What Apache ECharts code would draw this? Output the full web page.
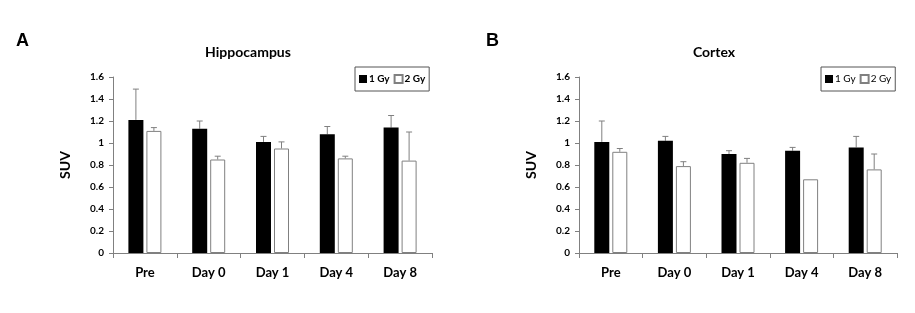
<!DOCTYPE html>
<html>
<head>
<meta charset="utf-8">
<script src="https://cdn.jsdelivr.net/npm/echarts@6/dist/echarts.min.js"></script>
<style>
  html, body { margin: 0; padding: 0; background: #fff; }
  #chart { width: 915px; height: 313px; }
</style>
</head>
<body>
<div id="chart"></div>
<script>
// data
const categories = ['Pre', 'Day 0', 'Day 1', 'Day 4', 'Day 8']
const yTicks = [0, 0.2, 0.4, 0.6, 0.8, 1, 1.2, 1.4, 1.6]

const hippo1Gy = [1.21, 1.13, 1.01, 1.08, 1.14]
const hippo1GyErr = [0.28, 0.07, 0.05, 0.07, 0.11]
const hippo2Gy = [1.11, 0.85, 0.95, 0.86, 0.84]
const hippo2GyErr = [0.03, 0.03, 0.06, 0.02, 0.26]

const cortex1Gy = [1.01, 1.02, 0.90, 0.93, 0.96]
const cortex1GyErr = [0.19, 0.04, 0.03, 0.03, 0.10]
const cortex2Gy = [0.92, 0.79, 0.82, 0.67, 0.76]
const cortex2GyErr = [0.03, 0.04, 0.04, 0, 0.14]

const FONT = 'Lato'
const GREY = '#808080'
const BAR_W = 15
const BAR_GAP = 3

const chart = echarts.init(document.getElementById('chart'))

function errSeries(gridIdx, values, errs, side) {
      // side: -1 left bar, +1 right bar
      return {
            type: 'custom',
            xAxisIndex: gridIdx,
            yAxisIndex: gridIdx,
            silent: true,
            z: 1,
            data: values.map((v, i) => [i, v, v + errs[i]]),
            renderItem: function(params, api) {
                  if (api.value(2) - api.value(1) < 0.005) return null
                  const base = api.coord([api.value(0), api.value(1)])
                  const top = api.coord([api.value(0), api.value(2)])
                  const x = base[0] + side * (BAR_W + BAR_GAP) / 2
                  const style = { stroke: GREY, lineWidth: 1 }
                  return {
                        type: 'group',
                        children: [
                              { type: 'line', shape: { x1: x, y1: base[1], x2: x, y2: top[1] }, style: style },
                              { type: 'line', shape: { x1: x - 3, y1: top[1], x2: x + 3, y2: top[1] }, style: style }
                        ]
                  }
            }
      }
}

function barSeries(gridIdx, name, values, white) {
      return {
            name: name,
            type: 'bar',
            xAxisIndex: gridIdx,
            yAxisIndex: gridIdx,
            barWidth: BAR_W,
            barGap: (BAR_GAP / BAR_W * 100) + '%',
            z: 2,
            itemStyle: white
                  ? { color: '#ffffff', borderColor: GREY, borderWidth: 1 }
                  : { color: '#000000' },
            data: values
      }
}

function xAxis(gridIdx) {
      return {
            type: 'category',
            gridIndex: gridIdx,
            data: categories,
            axisLine: { lineStyle: { color: GREY, width: 1 } },
            axisTick: { show: true, length: 5, lineStyle: { color: GREY } },
            axisLabel: { fontFamily: FONT, fontWeight: 'bold', fontSize: 13, color: '#000', margin: 13 }
      }
}

function yAxis(gridIdx) {
      return {
            type: 'value',
            gridIndex: gridIdx,
            min: yTicks[0],
            max: yTicks[yTicks.length - 1],
            interval: 0.2,
            name: 'SUV',
            nameLocation: 'middle',
            nameRotate: 90,
            nameGap: 41,
            nameTextStyle: { fontFamily: FONT, fontWeight: 'bold', fontSize: 14, color: '#000' },
            splitLine: { show: false },
            axisLine: { show: true, lineStyle: { color: GREY, width: 1 } },
            axisTick: { show: true, length: 4, lineStyle: { color: GREY } },
            axisLabel: {
                  fontFamily: FONT, fontWeight: 'bold', fontSize: 10, color: '#000', margin: 9,
                  formatter: v => String(Math.round(v * 10) / 10)
            }
      }
}

function legend(left, bold) {
      return {
            left: left,
            top: 67,
            orient: 'horizontal',
            borderColor: '#555',
            borderWidth: 1,
            padding: [7, 4, 7, 4],
            itemGap: 4,
            itemWidth: 8,
            itemHeight: 8,
            icon: 'rect',
            selectedMode: false,
            textStyle: { fontFamily: FONT, fontWeight: bold ? 'bold' : 'normal', fontSize: 10, color: '#000', padding: [0, 0, 0, -3] },
            data: ['1 Gy', '2 Gy']
      }
}

const titleStyle = { fontFamily: FONT, fontWeight: 'bold', fontSize: 14, color: '#000' }
const letterStyle = { fontFamily: 'Liberation Sans', fontWeight: 'bold', fontSize: 18, color: '#000' }

chart.setOption({
      animation: false,
      title: [
            { text: 'Hippocampus', left: 248, top: 45, textAlign: 'center', padding: 0, textStyle: titleStyle },
            { text: 'Cortex', left: 714, top: 45, textAlign: 'center', padding: 0, textStyle: titleStyle },
            { text: 'A', left: 16, top: 32, padding: 0, textStyle: letterStyle },
            { text: 'B', left: 486, top: 32, padding: 0, textStyle: letterStyle }
      ],
      legend: [legend(355, true), legend(821, false)],
      grid: [
            { left: 113, top: 77, width: 319, height: 176 },
            { left: 579, top: 77, width: 318, height: 176 }
      ],
      xAxis: [xAxis(0), xAxis(1)],
      yAxis: [yAxis(0), yAxis(1)],
      series: [
            barSeries(0, '1 Gy', hippo1Gy, false),
            barSeries(0, '2 Gy', hippo2Gy, true),
            errSeries(0, hippo1Gy, hippo1GyErr, -1),
            errSeries(0, hippo2Gy, hippo2GyErr, 1),
            barSeries(1, '1 Gy', cortex1Gy, false),
            barSeries(1, '2 Gy', cortex2Gy, true),
            errSeries(1, cortex1Gy, cortex1GyErr, -1),
            errSeries(1, cortex2Gy, cortex2GyErr, 1)
      ]
})
</script>
</body>
</html>
